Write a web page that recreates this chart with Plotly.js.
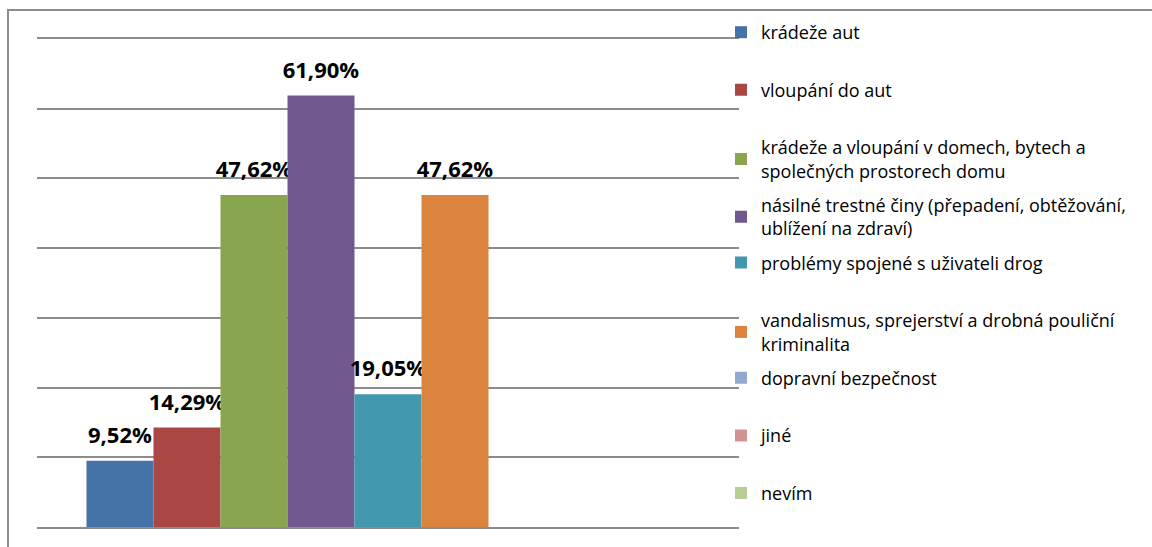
<!DOCTYPE html>
<html><head><meta charset="utf-8">
<script src="https://cdn.plot.ly/plotly-3.0.1.min.js"></script>
<style>html,body{margin:0;padding:0;background:#fff;}#chart{width:1152px;height:547px;}</style>
</head><body><div id="chart"></div>
<script>
const category = [''];
const seriesNames = [
  'krádeže aut',
  'vloupání do aut',
  'krádeže a vloupání v domech, bytech a společných prostorech domu',
  'násilné trestné činy (přepadení, obtěžování, ublížení na zdraví)',
  'problémy spojené s uživateli drog',
  'vandalismus, sprejerství a drobná pouliční kriminalita',
  'dopravní bezpečnost',
  'jiné',
  'nevím'
];
const seriesValues = [9.52, 14.29, 47.62, 61.90, 19.05, 47.62, null, null, null];
const seriesColors = ['#4572A7','#AA4643','#89A54E','#71588F','#4198AF','#DB843D','#93A9CF','#D19392','#B9CD96'];

function wrap(s, n) {
  const words = s.split(' '); const lines = []; let cur = '';
  for (const w of words) {
    if (cur && (cur + ' ' + w).length > n) { lines.push(cur); cur = w; }
    else cur = cur ? cur + ' ' + w : w;
  }
  if (cur) lines.push(cur);
  return lines.join('<br>');
}

const FONT = '"Open Sans", Lato, sans-serif';
const traces = seriesNames.map((name, i) => ({
  type: 'bar',
  name: wrap(name, 44),
  x: category,
  y: [seriesValues[i]],
  marker: {color: seriesColors[i]},
  texttemplate: seriesValues[i] == null ? '' : '<span style="font-size:22px">%{y:.2f}%</span><br> ',
  textposition: 'outside',
  constraintext: 'none',
  cliponaxis: false,
  textfont: {family: FONT, size: 9, color: '#000', weight: 'bold'},
  hoverinfo: 'skip',
  legend: i === 0 ? 'legend' : 'legend' + (i + 1)
}));

const plotTop = 39, plotBottom = 527, plotH = plotBottom - plotTop;
const layout = {
  width: 1152, height: 547,
  margin: {l: 37, r: 413, t: 39, b: 20, pad: 0},
  paper_bgcolor: '#fff', plot_bgcolor: '#fff',
  separators: ', ',
  barmode: 'group', bargap: 0.141, bargroupgap: 0,
  font: {family: FONT, color: '#000'},
  xaxis: {showticklabels: false, showgrid: false, zeroline: false, fixedrange: true,
          showline: true, mirror: true, linecolor: '#8c8c8c', linewidth: 2},
  yaxis: {range: [0, 70], dtick: 10, showticklabels: false, showgrid: true, gridcolor: '#8c8c8c', gridwidth: 2,
          zeroline: false, showline: false, fixedrange: true},
  shapes: [{type: 'rect', xref: 'paper', yref: 'paper',
            x0: -29/702, x1: 2.0, y0: -0.2, y1: (plotBottom - 10) / plotH,
            line: {color: '#8c8c8c', width: 2}, fillcolor: 'rgba(0,0,0,0)'}],
  showlegend: true
};
seriesNames.forEach((n, i) => {
  const centerPx = 33 + i * 57.6;
  const key = i === 0 ? 'legend' : 'legend' + (i + 1);
  layout[key] = {
    x: (735 - 14 - 37) / 702, xanchor: 'left',
    y: (plotBottom - (centerPx - 19)) / plotH, yanchor: 'top',
    bgcolor: 'rgba(0,0,0,0)', borderwidth: 0,
    font: {family: FONT, size: 18, color: '#000'},
    itemclick: false, itemdoubleclick: false
  };
});

Plotly.newPlot('chart', traces, layout, {staticPlot: true, displayModeBar: false});
</script></body></html>
